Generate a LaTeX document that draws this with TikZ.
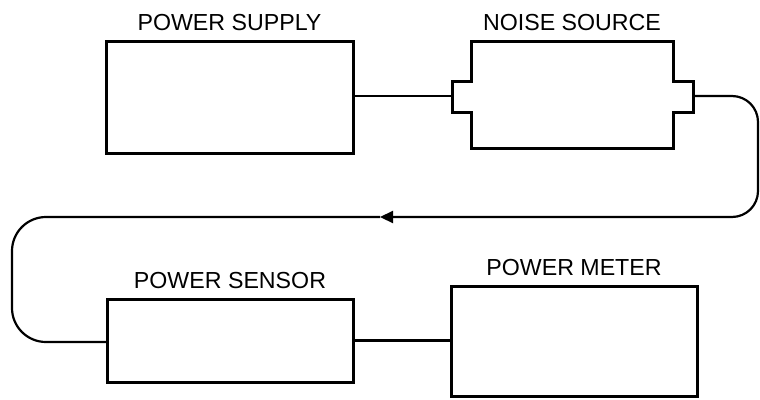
\documentclass[tikz,border=0pt]{standalone}
\usepackage{fontspec}
\setmainfont{Liberation Sans}
\usetikzlibrary{arrows.meta,positioning}
\begin{document}
\begin{tikzpicture}[x=1pt,y=-1pt,
    unit/.style={draw,line width=3pt,outer sep=0pt,inner sep=0pt},
    title/.style={anchor=base,font=\fontsize{23.2}{28}\selectfont},
    wire/.style={line width=1.5pt},
    cable/.style={line width=2.2pt}]
  \useasboundingbox (0,0) rectangle (760,399);
  % Instruments
  \node[unit,minimum width=247pt,minimum height=112pt] (supply) at (229.5,97) {};
  \node[minimum width=202pt,minimum height=107pt,outer sep=0pt] (noise) at (572,94.5) {};
  \node[unit,minimum width=246pt,minimum height=83pt] (sensor) at (230,340.5) {};
  \node[unit,minimum width=246pt,minimum height=110pt] (meter) at (574,341) {};
  % Labels
  \node[title] (supplylbl) at ([yshift=11pt]supply.north) {POWER SUPPLY};
  \node[title] (noiselbl) at ([yshift=11pt]noise.north) {NOISE SOURCE};
  \node[title] (sensorlbl) at ([yshift=11pt]sensor.north) {POWER SENSOR};
  \node[title] (meterlbl) at ([yshift=11pt]meter.north) {POWER METER};
  % Noise source body with connector tabs
  \coordinate (ltab) at (452,96);
  \coordinate (rtab) at (693,96);
  \draw[line width=3pt,line join=miter]
    (noise.north west) -- (noise.north east) -- (673,81) -- (693,81)
    -- (693,112) -- (673,112) -- (noise.south east) -- (noise.south west)
    -- (471,112) -- (452,112) -- (452,81) -- (471,81) -- cycle;
  % Connections
  \draw[wire] (supply.east |- ltab) -- (ltab);
  \draw[cable] (sensor.east) -- (meter.west |- sensor.east);
  \coordinate (tip) at (380,217);
  \draw[cable,rounded corners=26pt,-{Triangle[length=13pt,width=12pt]}]
    (rtab) -- (758,96) -- (758,217) -- (tip);
  \draw[cable,rounded corners=34pt]
    (tip) -- (12,217) -- (12,342) -- (sensor.west |- 0,342);
\end{tikzpicture}
\end{document}
